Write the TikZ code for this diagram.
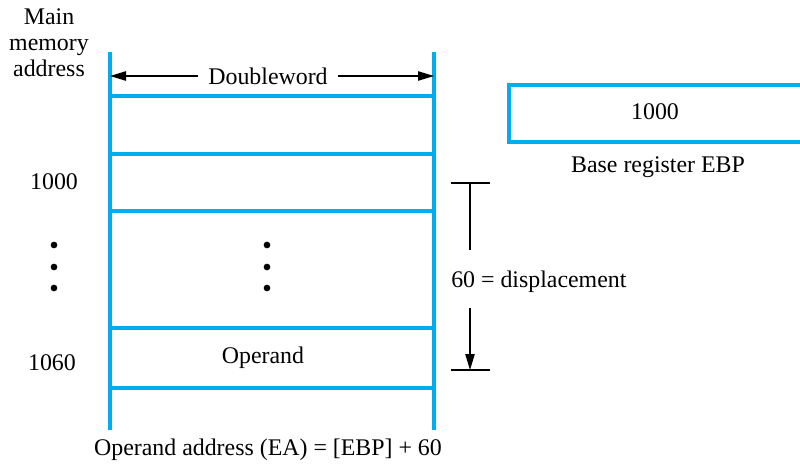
\documentclass[tikz,border=0pt]{standalone}
\usepackage{fontspec}
\setmainfont{Liberation Serif}
\usetikzlibrary{arrows.meta}
\definecolor{memblue}{RGB}{0,174,239}
\begin{document}
\begin{tikzpicture}[x=0.75pt,y=-0.75pt,
  wall/.style={memblue,line width=3pt},
  lbl/.style={font=\fontsize{17.9}{19.5}\selectfont, inner sep=0pt},
  dimline/.style={black,line width=1.1pt},
  tipend/.style={-{Triangle[length=12pt,width=7pt]}},
  dotmark/.style={circle,fill=black,inner sep=0pt,minimum size=5pt}]
\useasboundingbox (0,0) rectangle (800,464);

% memory column
\coordinate (lt) at (110,52);
\coordinate (lb) at (110,430);
\coordinate (rt) at (434,52);
\coordinate (rb) at (434,430);
\draw[wall] (lt) -- (lb);
\draw[wall] (rt) -- (rb);
\foreach \y/\n in {96/a,154/b,211/c,328/d,388/e}{
  \coordinate (h\n l) at (110,\y);
  \coordinate (h\n r) at (434,\y);
  \draw[wall] (h\n l) -- (h\n r);
}

% labels
\node[lbl,align=center] (mma) at (49,43) {Main\\memory\\address};
\node[lbl] (a1000) at (54,182) {1000};
\node[lbl] (a1060) at (52,363) {1060};
\node[lbl] (oper) at (263,358) {Operand};
\node[lbl] (ea) at (268,450) {Operand address (EA) = [EBP] + 60};

% dots
\foreach \y/\k in {245/1,267/2,288/3}{
  \node[dotmark] (ld\k) at (54,\y) {};
  \node[dotmark] (md\k) at (267,\y) {};
}

% doubleword arrow
\node[lbl] (dw) at (268,76) {Doubleword};
\coordinate (dwl) at (198,76);
\coordinate (dwr) at (338,76);
\coordinate (dwle) at (110,76);
\coordinate (dwre) at (434,76);
\draw[dimline,tipend] (dwl) -- (dwle);
\draw[dimline,tipend] (dwr) -- (dwre);

% base register (runs off the right edge)
\node[draw=memblue,line width=3pt,minimum width=240pt,minimum height=42.75pt,inner sep=0pt,anchor=north west] (reg) at (507,83) {};
\node[lbl] (regv) at (655,112) {1000};
\node[lbl] (regl) at (658,167) {Base register EBP};

% displacement
\coordinate (ttl) at (451,183);
\coordinate (ttr) at (490,183);
\coordinate (tbl) at (451,370);
\coordinate (tbr) at (490,370);
\coordinate (dtop) at (470,183);
\coordinate (dup) at (470,250);
\coordinate (dlo) at (470,308);
\coordinate (dbot) at (470,370);
\draw[dimline] (ttl) -- (ttr);
\draw[dimline] (tbl) -- (tbr);
\draw[dimline] (dtop) -- (dup);
\draw[dimline,tipend] (dlo) -- (dbot);
\node[lbl,anchor=west] (disp) at (451,282) {60 = displacement};
\end{tikzpicture}
\end{document}
